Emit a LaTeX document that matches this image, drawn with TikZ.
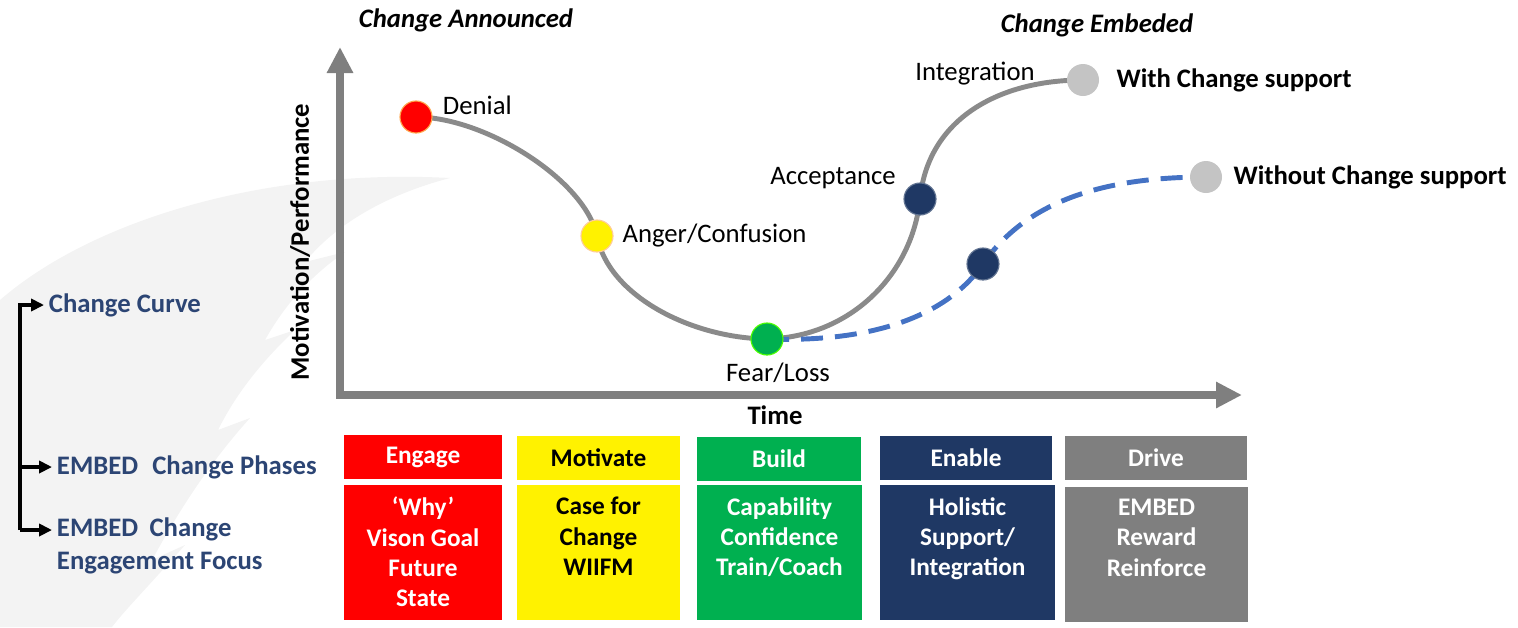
\documentclass[tikz,border=0pt]{standalone}
\usepackage{fontspec}
\setmainfont{Carlito}
\usetikzlibrary{arrows.meta,positioning,backgrounds}

\definecolor{navy}{HTML}{1F3864}
\definecolor{sidenavy}{HTML}{2C4574}
\definecolor{axisgray}{HTML}{7F7F7F}
\definecolor{curvegray}{HTML}{8A8A8A}
\definecolor{dotgray}{HTML}{C4C4C4}
\definecolor{dashblue}{HTML}{4472C4}
\definecolor{boxgreen}{HTML}{00B050}
\definecolor{boxgray}{HTML}{7F7F7F}
\definecolor{featherfill}{HTML}{F3F3F3}

\tikzstyle{dot} = [circle, minimum size=0.8cm, inner sep=0pt, line width=0.8pt]
\tikzstyle{stage} = [font=\fontsize{19}{22}\selectfont]
\tikzstyle{heading} = [font=\fontsize{19}{22}\selectfont\bfseries]
\tikzstyle{sidelabel} = [font=\fontsize{19}{23}\selectfont\bfseries, text=sidenavy, align=left, anchor=west]
\tikzstyle{phase} = [rectangle, minimum height=1.1cm, text centered, inner sep=0pt, font=\fontsize{18}{21}\selectfont\bfseries, text=white]
\tikzstyle{focus} = [rectangle, anchor=north, inner xsep=0pt, inner ysep=0.3cm, font=\fontsize{18}{21.5}\selectfont\bfseries, text=white]
\tikzstyle{axis} = [line width=5pt, axisgray, -{Triangle[length=0.65cm,width=0.62cm]}]
\tikzstyle{curve} = [line width=3.5pt, curvegray]
\tikzstyle{nosupport} = [line width=3.5pt, dashblue, dash pattern=on 0.55cm off 0.3cm]
\tikzstyle{link} = [line width=2.6pt, -{Triangle[length=0.32cm,width=0.3cm]}]

% top aligned text inside the focus boxes
\newcommand{\focuslines}[2]{\parbox[c][2.775cm][t]{#1}{\centering #2}}

\begin{document}
\begin{tikzpicture}[x=0.025cm, y=-0.025cm]
    \useasboundingbox (0,0) rectangle (1518,627);

    % faint feather in the back
    \fill [featherfill] (0,300) .. controls (90,222) and (260,168) .. (450,178)
        .. controls (385,195) and (335,225) .. (305,262) -- (345,252)
        .. controls (305,280) and (282,310) .. (265,340) -- (295,330)
        .. controls (255,368) and (233,400) .. (218,430) -- (250,418)
        .. controls (205,468) and (175,518) .. (152,560) -- (185,545)
        .. controls (145,590) and (125,610) .. (112,627) -- (0,627) -- cycle;

    % Axes
    \coordinate (origin) at (340,395);
    \coordinate (ytip) at (340,47);
    \coordinate (xtip) at (1242,395);
    \draw [axis] (origin) -- (ytip);
    \draw [axis] ([xshift=-2.5pt]origin) -- (xtip);
    \node (ylabel) [heading, rotate=90] at (300,242) {Motivation/Performance};
    \node (xlabel) [heading] at (775,415) {Time};
    \node (announced) [heading, font=\fontsize{19}{22}\selectfont\bfseries\itshape] at (466,20) {Change Announced};
    \node (embedded) [heading, font=\fontsize{19}{22}\selectfont\bfseries\itshape] at (1097,25) {Change Embeded};

    % Stages on the curve
    \node (denial) [dot, fill=red, draw=orange!70] at (416,117) {};
    \node (anger) [dot, fill=yellow, draw=orange!40] at (597,236) {};
    \node (fear) [dot, fill=boxgreen, draw=green!60!lime] at (767,339) {};
    \node (accept) [dot, fill=navy, draw=navy!70] at (920,199) {};
    \node (with) [dot, fill=dotgray] at (1083,80) {};
    \node (slow) [dot, fill=navy, draw=navy!70] at (983,264) {};
    \node (without) [dot, fill=dotgray] at (1206,177) {};

    \node (denialtxt) [stage, anchor=west] at (438,105) {Denial};
    \node (angertxt) [stage, right=0.1cm of anger] {Anger/Confusion};
    \node (feartxt) [stage] at (778,373) {Fear/Loss};
    \node (accepttxt) [stage] at (833,178) {Acceptance};
    \node (integtxt) [stage] at (975,74) {Integration};
    \node (withtxt) [heading, right=0.3cm of with] {With Change support};
    \node (withouttxt) [heading, right=0.15cm of without] {Without Change support};

    % Curves behind the dots
    \begin{pgfonlayer}{background}
    \draw [curve] (denial.center) .. controls (485,117) and (585,180) .. (anger.center)
                  .. controls (608,295) and (690,338) .. (fear.center)
                  .. controls (850,337) and (912,275) .. (accept.center)
                  .. controls (928,118) and (1000,80) .. (with.center);
    \draw [nosupport] (fear.center) .. controls (880,343) and (950,312) .. (slow.center)
                      .. controls (1025,203) and (1100,177) .. (without.center);
    \end{pgfonlayer}

    % EMBED phases
    \node (engage) [phase, fill=red, minimum width=3.95cm] at (423,457) {Engage};
    \node (motivate) [phase, fill=yellow, text=black, minimum width=4.075cm] at (598.5,458) {Motivate};
    \node (build) [phase, fill=boxgreen, minimum width=4.1cm] at (779,459) {Build};
    \node (enable) [phase, fill=navy, minimum width=4.3cm] at (966,457.5) {Enable};
    \node (drive) [phase, fill=boxgray, minimum width=4.55cm] at (1156,458) {Drive};

    % Engagement focus
    \node (engagefocus) [focus, fill=red] at (423,485) {\focuslines{3.95cm}{‘Why’\\Vison Goal\\Future\\State}};
    \node (motivatefocus) [focus, fill=yellow, text=black] at (598.5,485) {\focuslines{4.075cm}{Case for\\Change\\WIIFM}};
    \node (buildfocus) [focus, fill=boxgreen] at (779.5,485) {\focuslines{4.125cm}{Capability\\Confidence\\Train/Coach}};
    \node (enablefocus) [focus, fill=navy] at (967.5,485) {\focuslines{4.375cm}{Holistic\\Support/\\Integration}};
    \node (drivefocus) [focus, fill=boxgray] at (1156.5,487) {\focuslines{4.575cm}{EMBED\\Reward\\Reinforce}};

    % Side legend
    \node (lblcurve) [sidelabel] at (44,305) {Change Curve};
    \node (lblphases) [sidelabel] at (52,467) {EMBED\hspace{0.3em} Change Phases};
    \node (lblfocus) [sidelabel] at (52,546) {EMBED\hspace{0.2em} Change\\Engagement Focus};
    \coordinate (brtop) at (20,305);
    \coordinate (brbot) at (20,530);
    \draw [link] (brbot) -- (brtop) -- (lblcurve.west);
    \draw [link] (brtop |- lblphases.west) -- (lblphases.west);
    \draw [link] (brbot) -- (brbot -| lblfocus.west);
\end{tikzpicture}
\end{document}
